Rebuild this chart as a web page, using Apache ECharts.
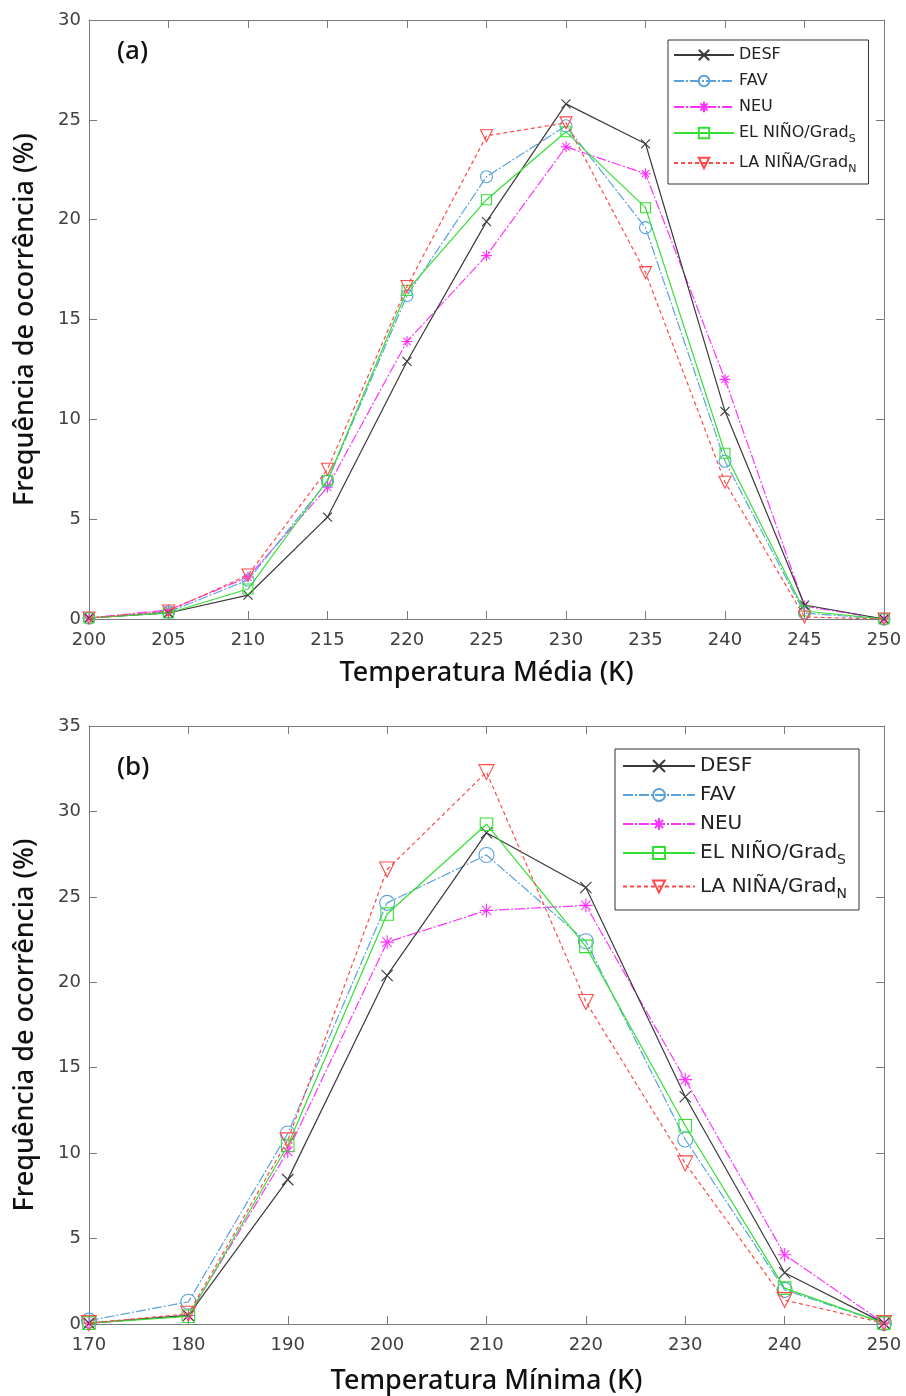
<!DOCTYPE html>
<html>
<head>
<meta charset="utf-8">
<script src="https://cdn.jsdelivr.net/npm/echarts@6/dist/echarts.min.js"></script>
<style>
  * { margin: 0; padding: 0; }
  body { background: #fff; }
  #main { width: 906px; height: 1396px; }
</style>
</head>
<body>
<div id="main"></div>
<script>
// (a) temperatura media
var tempA = [200, 205, 210, 215, 220, 225, 230, 235, 240, 245, 250];
var aDesf = [0.05, 0.3, 1.2, 5.1, 12.9, 19.9, 25.8, 23.8, 10.4, 0.7, 0.0];
var aFav  = [0.05, 0.35, 1.95, 6.9, 16.2, 22.15, 24.7, 19.6, 7.9, 0.3, 0.0];
var aNeu  = [0.05, 0.45, 2.1, 6.6, 13.9, 18.2, 23.65, 22.3, 12.0, 0.65, 0.0];
var aNino = [0.05, 0.3, 1.5, 6.95, 16.45, 21.0, 24.4, 20.6, 8.3, 0.4, 0.0];
var aNina = [0.05, 0.4, 2.2, 7.5, 16.65, 24.2, 24.85, 17.35, 6.85, 0.1, 0.0];

// (b) temperatura minima
var tempB = [170, 180, 190, 200, 210, 220, 230, 240, 250];
var bDesf = [0.05, 0.5, 8.45, 20.4, 28.75, 25.55, 13.3, 3.0, 0.05];
var bFav  = [0.2, 1.3, 11.15, 24.65, 27.45, 22.4, 10.8, 2.0, 0.05];
var bNeu  = [0.05, 0.5, 10.1, 22.35, 24.2, 24.5, 14.3, 4.05, 0.05];
var bNino = [0.05, 0.45, 10.45, 24.0, 29.25, 22.1, 11.6, 2.1, 0.05];
var bNina = [0.05, 0.6, 10.75, 26.6, 32.3, 18.85, 9.4, 1.4, 0.05];

var names = ['DESF', 'FAV', 'NEU', 'EL NIÑO/Grad_S', 'LA NIÑA/Grad_N'];

var xMark = 'path://M0,0L10,10M10,0L0,10';
var starMark = 'path://M5,0L5,10M0,5L10,5M1.6,1.6L8.4,8.4M8.4,1.6L1.6,8.4';

function pairs(xs, ys) {
  return xs.map(function (x, i) { return [x, ys[i]]; });
}

function mkSeries(name, xs, ys, idx, opt, big) {
  var k = big ? 1.25 : 1;
  return {
    name: name,
    type: 'line',
    xAxisIndex: idx,
    yAxisIndex: idx,
    data: pairs(xs, ys),
    symbol: opt.symbol,
    symbolSize: opt.size * k,
    symbolRotate: opt.rotate || 0,
    showAllSymbol: true,
    lineStyle: { color: opt.color, width: 1.2, type: opt.dash },
    itemStyle: { color: 'transparent', borderColor: opt.color, borderWidth: 1.1 },
    emphasis: { disabled: true },
    z: opt.z
  };
}

var styles = [
  { color: '#3a3a3a', symbol: xMark, size: 9, dash: 'solid', z: 5 },
  { color: '#5aa2dc', symbol: 'circle', size: 12, dash: [10, 2, 2, 2], z: 4 },
  { color: '#ff33ff', symbol: starMark, size: 11, dash: [10, 2, 2, 2], z: 3 },
  { color: '#33e033', symbol: 'rect', size: 10, dash: 'solid', z: 6 },
  { color: '#ff4a4a', symbol: 'triangle', size: 12, rotate: 180, dash: [4, 3], z: 7 }
];

var setA = [aDesf, aFav, aNeu, aNino, aNina];
var setB = [bDesf, bFav, bNeu, bNino, bNina];

var series = [];
names.forEach(function (n, i) {
  series.push(mkSeries(n, tempA, setA[i], 0, styles[i], false));
});
names.forEach(function (n, i) {
  series.push(mkSeries('b:' + n, tempB, setB[i], 2, styles[i], true));
});

var tickFont = { fontFamily: 'DejaVu Sans', fontSize: 18, color: '#404040' };
var titleFont = { fontFamily: 'Noto Sans', fontSize: 27, fontWeight: 500, color: '#111' };
var axisGray = '#7a7a7a';

function xAx(grid, min, max, interval, pos, label) {
  return {
    type: 'value', gridIndex: grid, position: pos, min: min, max: max, interval: interval,
    axisLine: { show: true, onZero: false, lineStyle: { color: axisGray } },
    axisTick: { show: true, inside: true, length: 8, lineStyle: { color: axisGray } },
    axisLabel: { show: label, margin: 12, textStyle: tickFont },
    splitLine: { show: false },
    name: label ? (grid === 0 ? 'Temperatura Média (K)' : 'Temperatura Mínima (K)') : '',
    nameLocation: 'middle', nameGap: grid === 0 ? 41 : 44, nameTextStyle: titleFont
  };
}
function yAx(grid, max, pos, label) {
  return {
    type: 'value', gridIndex: grid, position: pos, min: 0, max: max, interval: 5,
    axisLine: { show: true, onZero: false, lineStyle: { color: axisGray } },
    axisTick: { show: true, inside: true, length: 8, lineStyle: { color: axisGray } },
    axisLabel: { show: label, margin: 8, textStyle: tickFont },
    splitLine: { show: false },
    name: label ? 'Frequência de ocorrência (%)' : '',
    nameLocation: 'middle', nameGap: 50, nameTextStyle: titleFont
  };
}

function legendFmt(name) {
  var n = name.replace(/^b:/, '');
  var parts = n.split('_');
  if (parts.length > 1) return '{t|' + parts[0] + '}{s|' + parts[1] + '}';
  return '{t|' + n + '}';
}

var chart = echarts.init(document.getElementById('main'));
chart.setOption({
  animation: false,
  backgroundColor: '#fff',
  grid: [
    { left: 89, right: 22, top: 20, height: 599 },
    { left: 89, right: 22, top: 726, height: 598 }
  ],
  xAxis: [
    xAx(0, 200, 250, 5, 'bottom', true),
    xAx(0, 200, 250, 5, 'top', false),
    xAx(1, 170, 250, 10, 'bottom', true),
    xAx(1, 170, 250, 10, 'top', false)
  ],
  yAxis: [
    yAx(0, 30, 'left', true),
    yAx(0, 30, 'right', false),
    yAx(1, 35, 'left', true),
    yAx(1, 35, 'right', false)
  ],
  legend: [
    {
      data: names,
      orient: 'vertical', left: 668, top: 40,
      itemWidth: 60, itemHeight: 13, itemGap: 10,
      padding: [7, 12, 9, 5],
      backgroundColor: '#fff', borderColor: '#333', borderWidth: 1,
      selectedMode: false,
      formatter: legendFmt,
      textStyle: {
        rich: {
          t: { fontFamily: 'DejaVu Sans', fontSize: 16, color: '#222' },
          s: { fontFamily: 'DejaVu Sans', fontSize: 11, color: '#222', padding: [13, 0, 0, 0] }
        }
      }
    },
    {
      data: names.map(function (n) { return 'b:' + n; }),
      orient: 'vertical', left: 615, top: 749,
      itemWidth: 72, itemHeight: 15, itemGap: 9,
      padding: [7, 12, 9, 7],
      backgroundColor: '#fff', borderColor: '#333', borderWidth: 1,
      selectedMode: false,
      formatter: legendFmt,
      textStyle: {
        rich: {
          t: { fontFamily: 'DejaVu Sans', fontSize: 20, color: '#222' },
          s: { fontFamily: 'DejaVu Sans', fontSize: 14, color: '#222', padding: [15, 0, 0, 0] }
        }
      }
    }
  ],
  graphic: [
    { type: 'text', left: 117, top: 39, style: { text: '(a)', font: '500 26px "Noto Sans"', fill: '#111' } },
    { type: 'text', left: 117, top: 755, style: { text: '(b)', font: '500 26px "Noto Sans"', fill: '#111' } }
  ],
  series: series
});
</script>
</body>
</html>
